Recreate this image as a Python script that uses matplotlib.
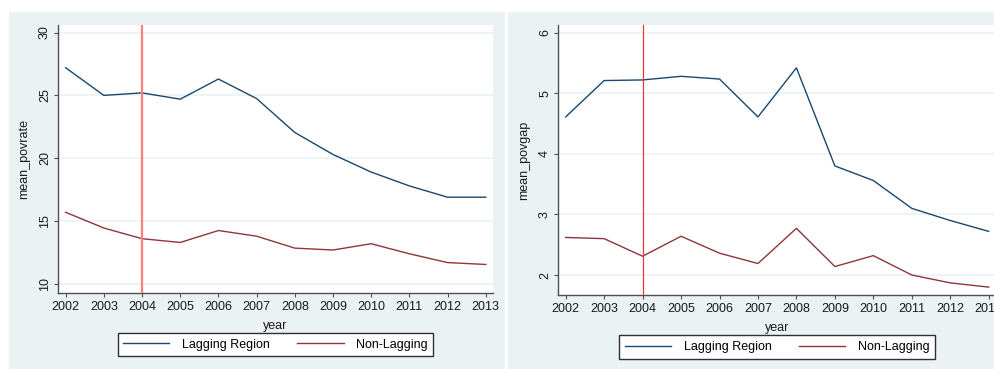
import numpy as np
import matplotlib
matplotlib.use("Agg")
import matplotlib.pyplot as plt
from matplotlib.patches import Rectangle

plt.rcParams['font.family'] = ['Liberation Sans', 'DejaVu Sans']

years = [2002, 2003, 2004, 2005, 2006, 2007, 2008, 2009, 2010, 2011, 2012, 2013]

# mean poverty rate by group
povrate_lag = [27.2, 25.0, 25.2, 24.7, 26.3, 24.75, 22.05, 20.3, 18.9, 17.8, 16.9, 16.9]
povrate_non = [15.7, 14.45, 13.6, 13.3, 14.25, 13.8, 12.85, 12.7, 13.2, 12.4, 11.7, 11.55]

# mean poverty gap by group
povgap_lag = [4.61, 5.21, 5.22, 5.28, 5.235, 4.61, 5.42, 3.80, 3.56, 3.10, 2.90, 2.72]
povgap_non = [2.62, 2.60, 2.31, 2.64, 2.36, 2.19, 2.77, 2.14, 2.32, 2.00, 1.87, 1.80]

ref_year = 2004
labels = ["Lagging Region", "Non-Lagging"]

W, H = 995, 369
bg = '#eaf2f3'
navy = '#1a476f'
maroon = '#90353b'

fig = plt.figure(figsize=(W / 100, H / 100), dpi=100)
fig.patch.set_facecolor('white')


def px_rect(x0, y0, x1, y1):
    # pixel box (top-left origin) -> figure fraction [left, bottom, width, height]
    return [x0 / W, (H - y1) / H, (x1 - x0) / W, (y1 - y0) / H]


# graph regions behind the plots
for x0, x1 in [(9, 505), (508, 995)]:
    l, b, w, h = px_rect(x0, 12, x1, 369)
    fig.patches.append(Rectangle((l, b), w, h, transform=fig.transFigure,
                                 facecolor=bg, edgecolor='none', zorder=-5))


def panel(rect, lag, non, ylabel, ylim, yticks, vcolor, vlw):
    ax = fig.add_axes(px_rect(*rect))
    ax.set_facecolor('white')
    ax.plot(years, lag, color=navy, lw=1.0, label=labels[0], zorder=3)
    ax.plot(years, non, color=maroon, lw=1.0, label=labels[1], zorder=3)
    ax.axvline(ref_year, color=vcolor, lw=vlw, zorder=4)
    ax.set_xlim(2001.8, 2013.19)
    ax.set_ylim(*ylim)
    ax.set_xticks(years)
    ax.set_yticks(yticks)
    ax.grid(axis='y', color=bg, lw=1.2, zorder=0)
    ax.grid(axis='x', visible=False)
    for s in ['top', 'right']:
        ax.spines[s].set_visible(False)
    for s in ['left', 'bottom']:
        ax.spines[s].set_color('#505050')
        ax.spines[s].set_linewidth(1.0)
    ax.tick_params(axis='both', colors='#505050', labelcolor='#1a1a1a',
                   length=3, width=0.8, labelsize=9)
    ax.tick_params(axis='x', pad=3)
    ax.tick_params(axis='y', pad=2)
    for t in ax.get_yticklabels():
        t.set_rotation(90)
        t.set_va('center')
    ax.set_ylabel(ylabel, fontsize=9, color='#1a1a1a')
    ax.yaxis.set_label_coords(-0.064, 0.5)
    ax.set_xlabel("year", fontsize=9, color='#1a1a1a')
    ax.xaxis.set_label_coords(0.5, -0.10)
    leg = ax.legend(loc='center', bbox_to_anchor=(0.5, -0.193), ncol=2,
                    frameon=True, fancybox=False, fontsize=9,
                    handlelength=3.7, handletextpad=1.0, columnspacing=2.2,
                    borderpad=0.45, borderaxespad=0)
    leg.get_frame().set_edgecolor('#303030')
    leg.get_frame().set_linewidth(1.0)
    leg.get_frame().set_facecolor('white')
    leg.get_frame().set_alpha(1)
    return ax


panel((58, 25, 493, 293), povrate_lag, povrate_non, "mean_povrate",
      (9.28, 30.6), [10, 15, 20, 25, 30], '#ff7f7f', 1.6)
panel((558, 25, 996, 295), povgap_lag, povgap_non, "mean_povgap",
      (1.67, 6.127), [2, 3, 4, 5, 6], '#e8383c', 0.9)

fig.savefig("out.png", dpi=100, facecolor=fig.get_facecolor())
